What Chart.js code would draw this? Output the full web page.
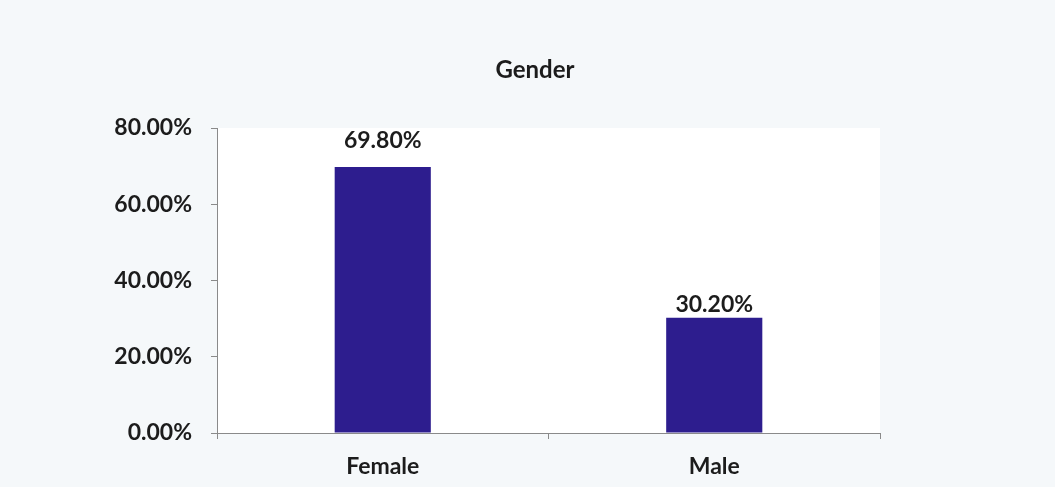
<!DOCTYPE html>
<html>
<head>
<meta charset="utf-8">
<script src="https://cdn.jsdelivr.net/npm/chart.js@4"></script>
<style>
html,body{margin:0;padding:0;background:#f5f8fa;}
#wrap{width:1055px;height:487px;}
</style>
</head>
<body>
<div id="wrap"><canvas id="c" width="1055" height="487"></canvas></div>
<script>
const chartTitle = "Gender";
const categories = ["Female", "Male"];
const values = [69.8, 30.2];
const yTicks = [0, 20, 40, 60, 80];
const labelGaps = [19, 6];

const FONT = "Lato, 'Open Sans', sans-serif";
const TEXT = "#1c1c1c";
const AXIS = "#8a8a8a";

const bgPlugin = {
  id: 'bg',
  beforeDraw(chart) {
    const {ctx, chartArea: a} = chart;
    ctx.save();
    ctx.fillStyle = '#f5f8fa';
    ctx.fillRect(0, 0, chart.width, chart.height);
    ctx.fillStyle = '#ffffff';
    ctx.fillRect(a.left, a.top, a.right - a.left, a.bottom - a.top);
    ctx.restore();
  }
};

const titlePlugin = {
  id: 'customTitle',
  afterDraw(chart) {
    const {ctx} = chart;
    ctx.save();
    ctx.font = "bold 24px " + FONT;
    ctx.fillStyle = TEXT;
    ctx.textAlign = 'center';
    ctx.textBaseline = 'alphabetic';
    ctx.fillText(chartTitle, 535, 78);
    ctx.restore();
  }
};

const labelPlugin = {
  id: 'valueLabels',
  afterDatasetsDraw(chart) {
    const {ctx} = chart;
    const meta = chart.getDatasetMeta(0);
    ctx.save();
    ctx.font = "bold 23px " + FONT;
    ctx.fillStyle = TEXT;
    ctx.textAlign = 'center';
    ctx.textBaseline = 'alphabetic';
    meta.data.forEach((bar, i) => {
      ctx.fillText(values[i].toFixed(2) + '%', bar.x, bar.y - labelGaps[i]);
    });
    ctx.restore();
  }
};

new Chart(document.getElementById('c'), {
  type: 'bar',
  data: {
    labels: categories,
    datasets: [{
      data: values,
      backgroundColor: '#2d1d8e',
      borderWidth: 0,
      categoryPercentage: 1,
      barPercentage: 0.29
    }]
  },
  plugins: [bgPlugin, titlePlugin, labelPlugin],
  options: {
    responsive: false,
    animation: false,
    devicePixelRatio: 1,
    layout: { padding: { top: 128, left: 0, right: 175, bottom: 0 } },
    plugins: { legend: { display: false }, title: { display: false }, tooltip: { enabled: false } },
    scales: {
      y: {
        min: 0, max: 80,
        afterBuildTicks(s) { s.ticks = yTicks.map(v => ({value: v})); },
        afterFit(s) { s.width = 217; },
        ticks: {
          callback: v => v.toFixed(2) + '%',
          font: { family: FONT, size: 23, weight: 'bold' },
          color: TEXT,
          padding: 19
        },
        grid: { drawOnChartArea: false, drawTicks: true, tickLength: 6, color: AXIS },
        border: { display: true, color: AXIS, width: 1 }
      },
      x: {
        offset: true,
        afterFit(s) { s.height = 54; },
        ticks: {
          font: { family: FONT, size: 23, weight: 'bold' },
          color: TEXT,
          padding: 14
        },
        grid: { offset: true, drawOnChartArea: false, drawTicks: true, tickLength: 6, color: AXIS },
        border: { display: true, color: AXIS, width: 1 }
      }
    }
  }
});
</script>
</body>
</html>
